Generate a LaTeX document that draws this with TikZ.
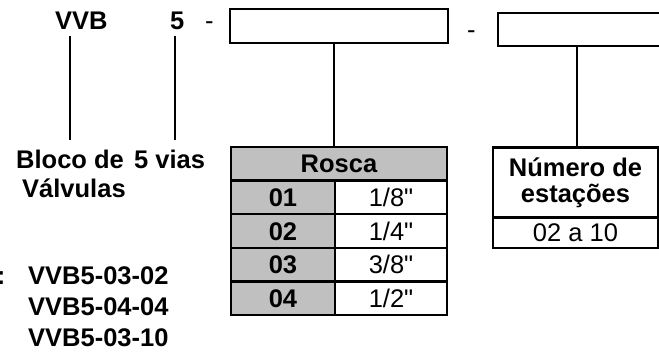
\documentclass[tikz,border=0pt]{standalone}
\usepackage{fontspec}
\setmainfont{Liberation Sans}[Ligatures=TeXOff]
\definecolor{cellgray}{HTML}{C0C0C0}
\newcommand{\bigfont}{\fontsize{25.5}{26}\selectfont}
\begin{document}
\begin{tikzpicture}[x=1pt,y=-1pt,
  lbl/.style={inner sep=0pt, anchor=base west, font=\bfseries\bigfont},
  plainlbl/.style={inner sep=0pt, anchor=base west, font=\bigfont},
  ln/.style={line width=2.8pt},
  codebox/.style={draw, line width=2.4pt, inner sep=0pt},
  cell/.style={draw, line width=2.4pt, inner sep=0pt, text height=18.3pt, text depth=0pt},
  graycell/.style={cell, fill=cellgray, font=\bfseries\bigfont},
  whitecell/.style={cell, fill=white, font=\bigfont}]
\useasboundingbox (0,0) rectangle (659,356);

% top code row
\node[lbl] (vvb) at (55,30) {VVB};
\node[lbl] (five) at (170,30) {5};
\node[plainlbl] (d1) at (205,29) {-};
\node[codebox, minimum width=218pt, minimum height=34pt] (b1) at (339,26) {};
\node[plainlbl] (d2) at (467,38) {-};
\node[codebox, minimum width=210pt, minimum height=33pt, anchor=west] (b2) at (497,29.5) {};

% labels
\node[lbl] (bloco) at (16,168) {Bloco de};
\node[lbl] (valv) at (22,197) {Válvulas};
\node[lbl] (vias) at (134,168) {5 vias};

% examples
\node[lbl] (colon) at (-3.4,284) {:};
\node[lbl] (ex1) at (28,284) {VVB5-03-02};
\node[lbl] (ex2) at (28,315) {VVB5-04-04};
\node[lbl] (ex3) at (28,346) {VVB5-03-10};

% Rosca table
\node[graycell, minimum width=216pt, minimum height=33.6pt] (rosca) at (339,163.8) {Rosca};
\node[graycell, minimum width=104pt, minimum height=33.6pt] (k1) at (283,197.4) {01};
\node[whitecell, minimum width=112pt, minimum height=33.6pt] (v1) at (391,197.4) {1/8"};
\node[graycell, minimum width=104pt, minimum height=33.6pt] (k2) at (283,231.0) {02};
\node[whitecell, minimum width=112pt, minimum height=33.6pt] (v2) at (391,231.0) {1/4"};
\node[graycell, minimum width=104pt, minimum height=33.6pt] (k3) at (283,264.6) {03};
\node[whitecell, minimum width=112pt, minimum height=33.6pt] (v3) at (391,264.6) {3/8"};
\node[graycell, minimum width=104pt, minimum height=33.6pt] (k4) at (283,298.2) {04};
\node[whitecell, minimum width=112pt, minimum height=33.6pt] (v4) at (391,298.2) {1/2"};

% Numero table
\node[draw, line width=2.4pt, fill=white, inner sep=0pt, minimum width=165pt, minimum height=70pt,
      align=center, font=\bfseries\bigfont] (num) at (575.5,182.5) {Número de\\estações};
\node[whitecell, minimum width=165pt, minimum height=30.5pt] (numv) at (575.5,232.75) {02 a 10};

% connectors
\coordinate (xa) at (70,0);
\coordinate (xb) at (175,0);
\coordinate (xc) at (334,0);
\coordinate (xd) at (577,0);
\coordinate (ya) at (0,36);
\coordinate (yb) at (0,140);
\draw[ln] (xa |- ya) -- (xa |- yb);
\draw[ln] (xb |- ya) -- (xb |- yb);
\draw[ln] (b1.south -| xc) -- (rosca.north -| xc);
\draw[ln] (b2.south -| xd) -- (num.north -| xd);
\end{tikzpicture}
\end{document}
